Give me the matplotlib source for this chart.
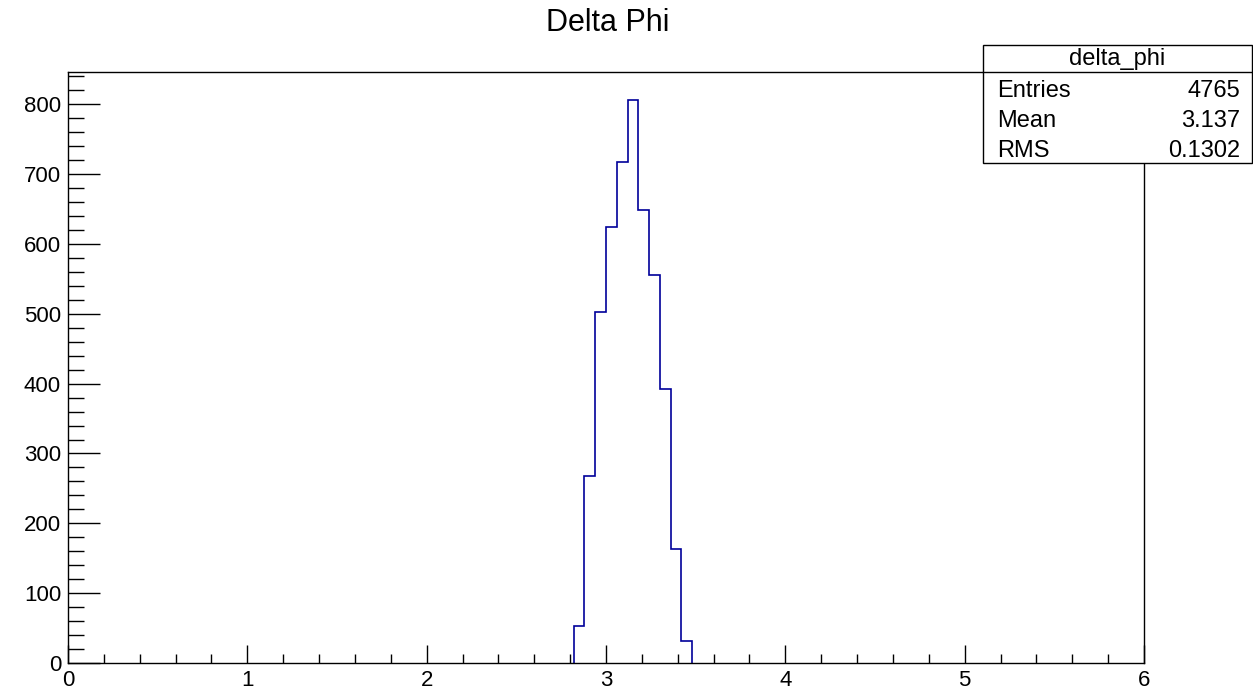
import matplotlib.pyplot as plt
from matplotlib.patches import Rectangle
from matplotlib.lines import Line2D
from matplotlib.ticker import MultipleLocator

plt.rcParams["font.family"] = ["Liberation Sans", "DejaVu Sans"]

# histogram content (bin width 0.06)
edges = [2.82, 2.88, 2.94, 3.00, 3.06, 3.12, 3.18, 3.24, 3.30, 3.36, 3.42, 3.48]
counts = [53, 268, 503, 625, 718, 806, 649, 556, 392, 163, 32]
stat_names = ["Entries", "Mean", "RMS"]
stat_values = ["4765", "3.137", "0.1302"]

W, H = 1253, 689
fig = plt.figure(figsize=(W / 100, H / 100), dpi=100)
ax = fig.add_axes([68 / W, 1 - 663 / H, (1144 - 68) / W, (663 - 72) / H])

ax.stairs(counts, edges, color="#00009a", linewidth=1.2)
ax.set_xlim(0, 6)
ax.set_ylim(0, max(counts) * 1.05)

ax.xaxis.set_major_locator(MultipleLocator(1))
ax.xaxis.set_minor_locator(MultipleLocator(0.2))
ax.yaxis.set_major_locator(MultipleLocator(100))
ax.yaxis.set_minor_locator(MultipleLocator(20))
ax.tick_params(axis="both", which="both", direction="in", labelsize=16,
               top=False, right=False, width=1, color="black")
ax.tick_params(axis="x", which="major", length=13, pad=5)
ax.tick_params(axis="x", which="minor", length=6.5)
ax.tick_params(axis="y", which="major", length=23, pad=5)
ax.tick_params(axis="y", which="minor", length=11.5)
for s in ax.spines.values():
    s.set_linewidth(1)

fig.text(608 / W, 1 - 23 / H, "Delta Phi", ha="center", va="center", fontsize=22)

# stats box
bl, br, bt, bb, bmid = 983, 1252, 45, 163, 72
fig.patches.append(Rectangle((bl / W, 1 - bb / H), (br - bl) / W, (bb - bt) / H,
                             transform=fig.transFigure, facecolor="white",
                             edgecolor="black", linewidth=1, zorder=5))
fig.lines.append(Line2D([bl / W, br / W], [1 - bmid / H, 1 - bmid / H],
                        transform=fig.transFigure, color="black", linewidth=1, zorder=6))
fig.text((bl + br) / 2 / W, 1 - 59 / H, "delta_phi", ha="center", va="center",
         fontsize=17, zorder=7)
for i, (n, v) in enumerate(zip(stat_names, stat_values)):
    y = 1 - (91 + 30 * i) / H
    fig.text(997 / W, y, n, ha="left", va="center", fontsize=17, zorder=7)
    fig.text(1240 / W, y, v, ha="right", va="center", fontsize=17, zorder=7)

fig.savefig("out.png", dpi=100)
